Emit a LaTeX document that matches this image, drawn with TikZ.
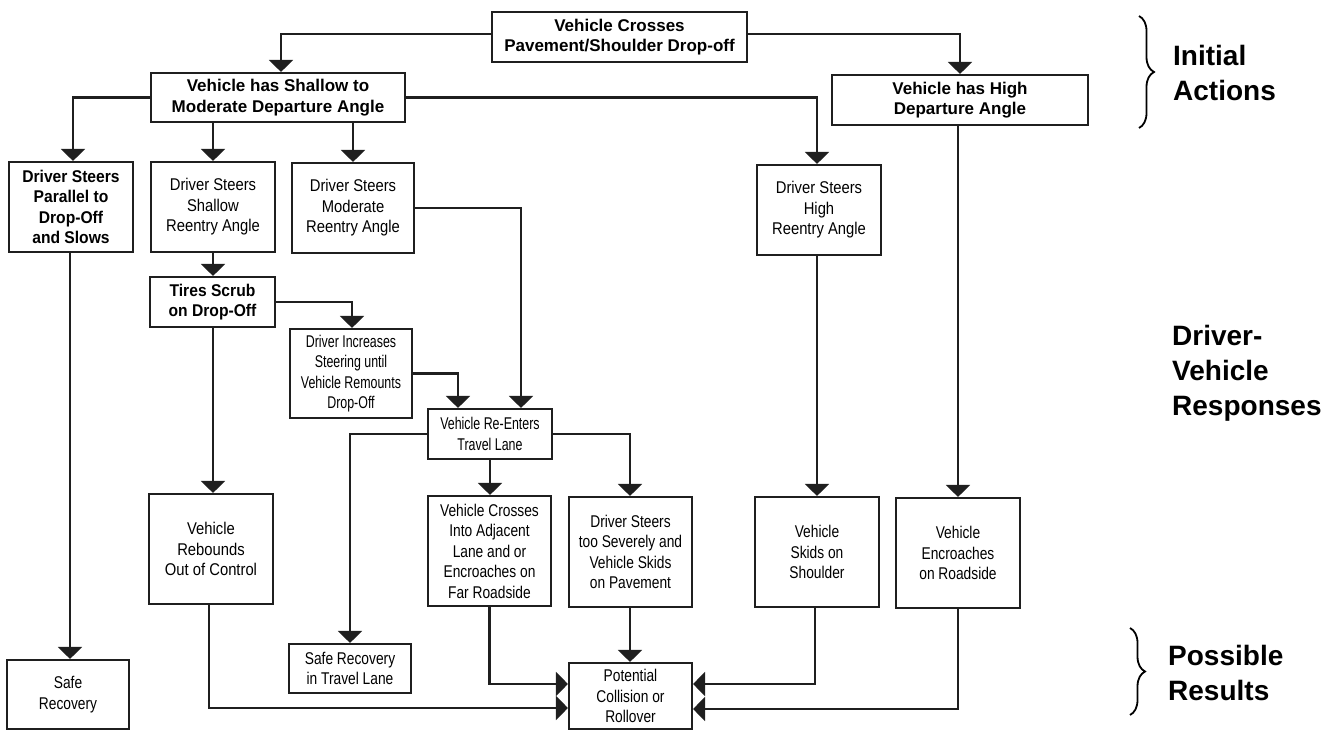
\documentclass[tikz,border=0pt]{standalone}
\usepackage{fontspec}
\setmainfont{Liberation Sans}
\newfontfamily\fA{Liberation Sans}[FakeStretch=0.87]
\newfontfamily\fB{Liberation Sans}[FakeStretch=0.81]
\newfontfamily\fC{Liberation Sans}[FakeStretch=0.73]
\newfontfamily\fBold{Liberation Sans}[FakeStretch=0.92]
\usetikzlibrary{arrows.meta,decorations.pathreplacing}
\tikzset{
  box/.style={draw=black!88, line width=2.1pt, inner sep=0pt, align=center, fill=white},
  bxbig/.style={box, font=\bfseries\fontsize{17}{20.5}\selectfont},
  bxbold/.style={box, font=\fBold\bfseries\fontsize{17}{20.5}\selectfont},
  bxA/.style={box, font=\fA\fontsize{17}{20.5}\selectfont},
  bxB/.style={box, font=\fB\fontsize{17}{20.5}\selectfont},
  bxC/.style={box, font=\fC\fontsize{17}{20.5}\selectfont},
  conn/.style={line width=2.1pt, draw=black!88, -{Triangle[width=24pt,length=12pt]}},
  head/.style={anchor=west, align=left, inner sep=0pt, font=\bfseries\fontsize{28}{35}\selectfont},
  bracestyle/.style={line width=1.8pt, decorate, decoration={brace, amplitude=15pt}}
}
\begin{document}
\begin{tikzpicture}[x=1pt,y=-1pt]
\useasboundingbox (0,0) rectangle (1334,730);
% level 1
\node[bxbig, minimum width=255pt, minimum height=50pt] (top) at (619.5,37) {Vehicle Crosses\\Pavement/Shoulder Drop-off};
\node[bxbig, minimum width=254pt, minimum height=49pt] (shallow) at (278,97.5) {Vehicle has Shallow to\\Moderate Departure Angle};
\node[bxbig, minimum width=256pt, minimum height=50pt] (high) at (960,100) {Vehicle has High\\Departure Angle};
% level 2
\node[bxbold, minimum width=124pt, minimum height=90pt] (parallel) at (71,207) {Driver Steers\\Parallel to\\Drop-Off\\and Slows};
\node[bxA, minimum width=124pt, minimum height=90pt] (shallowre) at (213,207) {Driver Steers\\Shallow\\Reentry Angle};
\node[bxA, minimum width=122pt, minimum height=90pt] (moderate) at (353,208) {Driver Steers\\Moderate\\Reentry Angle};
\node[bxA, minimum width=124pt, minimum height=90pt] (highre) at (819,210) {Driver Steers\\High\\Reentry Angle};
% level 3
\node[bxbold, minimum width=125pt, minimum height=50pt] (tires) at (212.5,302) {Tires Scrub\\on Drop-Off};
\node[bxC, minimum width=122pt, minimum height=89pt] (increases) at (351,373.5) {Driver Increases\\Steering until\\Vehicle Remounts\\Drop-Off};
\node[bxC, minimum width=124pt, minimum height=50pt] (reenters) at (490,434) {Vehicle Re-Enters\\Travel Lane};
% level 4
\node[bxA, minimum width=124pt, minimum height=110pt] (rebounds) at (211,549) {Vehicle\\Rebounds\\Out of Control};
\node[bxB, minimum width=123pt, minimum height=110pt] (crosses) at (489.5,551) {Vehicle Crosses\\Into Adjacent\\Lane and or\\Encroaches on\\Far Roadside};
\node[bxB, minimum width=123pt, minimum height=110pt] (severely) at (630.5,552) {Driver Steers\\too Severely and\\Vehicle Skids\\on Pavement};
\node[bxB, minimum width=124pt, minimum height=110pt] (skids) at (817,552) {Vehicle\\Skids on\\Shoulder};
\node[bxB, minimum width=124pt, minimum height=110pt] (encroaches) at (958,553) {Vehicle\\Encroaches\\on Roadside};
% results
\node[bxB, minimum width=122pt, minimum height=69pt] (safe) at (68,694.5) {Safe\\Recovery};
\node[bxB, minimum width=122pt, minimum height=49pt] (safelane) at (350,668.5) {Safe Recovery\\in Travel Lane};
\node[bxB, minimum width=123pt, minimum height=66pt] (potential) at (630.5,696) {Potential\\Collision or\\Rollover};
% connectors
\draw[conn] ([yshift=3pt]top.west) -| ([xshift=3pt]shallow.north);
\draw[conn] ([yshift=3pt]top.east) -| (high.north);
\draw[conn] (shallow.west) -| ([xshift=2pt]parallel.north);
\draw[conn] (shallow.east) -| ([xshift=-2pt]highre.north);
\draw[conn] (shallowre.north |- shallow.south) -- (shallowre.north);
\draw[conn] (moderate.north |- shallow.south) -- (moderate.north);
\draw[conn] (encroaches.north |- high.south) -- (encroaches.north);
\draw[conn] (skids.north |- highre.south) -- (skids.north);
\draw[conn] ([xshift=-1pt]parallel.south) -- ([xshift=-1pt]parallel.south |- safe.north);
\draw[conn] (shallowre.south) -- (shallowre.south |- tires.north);
\draw[conn] (moderate.east) -| ([xshift=31pt]reenters.north);
\draw[conn] (tires.east) -| ([xshift=1pt]increases.north);
\draw[conn] (increases.east) -| ([xshift=-32pt]reenters.north);
\draw[conn] ([xshift=0.5pt]tires.south) -- ([xshift=0.5pt]tires.south |- rebounds.north);
\draw[conn] (reenters.west) -| (safelane.north);
\draw[conn] (reenters.south) -- (reenters.south |- crosses.north);
\draw[conn] (reenters.east) -| ([xshift=-0.5pt]severely.north);
\draw[conn] ([xshift=-0.5pt]severely.south) -- ([xshift=-0.5pt]potential.north);
\draw[conn] (crosses.south) |- ([yshift=12pt]potential.west);
\draw[conn] ([xshift=-2pt]rebounds.south) |- ([yshift=-12pt]potential.west);
\draw[conn] ([xshift=-2pt]skids.south) |- ([yshift=12pt]potential.east);
\draw[conn] (encroaches.south) |- ([yshift=-13pt]potential.east);
% braces and headings
\draw[bracestyle] (1139,16) -- (1139,128);
\draw[bracestyle] (1130,628) -- (1130,715);
\node[head] (h1) at (1173,72.5) {Initial\\Actions};
\node[head] (h2) at (1172,373) {Driver-\\Vehicle\\Responses};
\node[head] (h3) at (1168,672.5) {Possible\\Results};
\end{tikzpicture}
\end{document}
